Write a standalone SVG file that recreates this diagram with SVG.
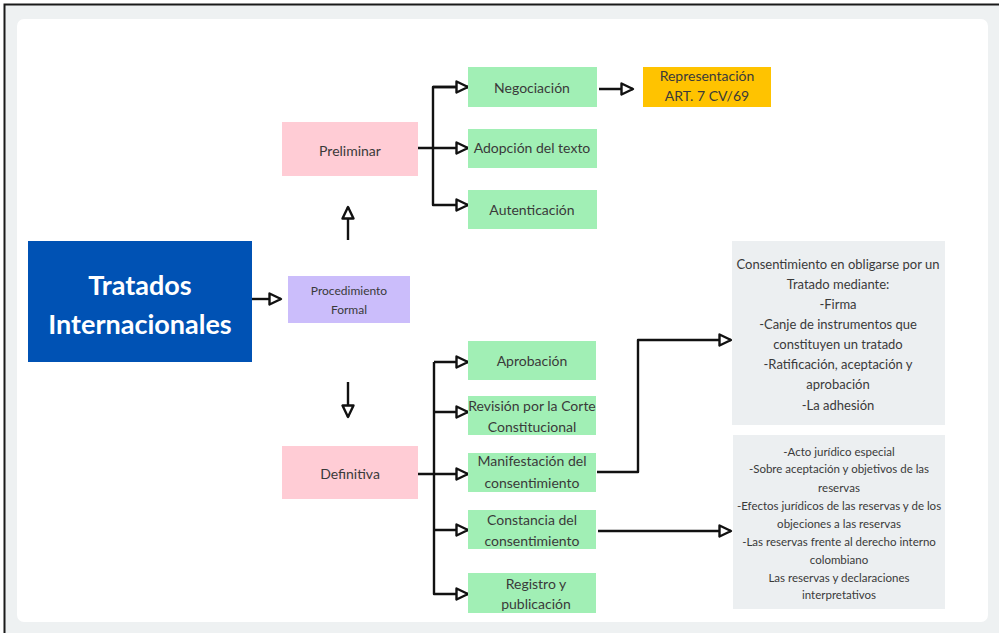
<svg xmlns="http://www.w3.org/2000/svg" width="999" height="633" viewBox="0 0 999 633">
<defs>
<marker id="arr" markerUnits="userSpaceOnUse" markerWidth="16" markerHeight="16" refX="13" refY="7" orient="auto">
<path d="M1.5,1.5 L13,7 L1.5,12.5 Z" fill="#ffffff" stroke="#111111" stroke-width="2.4" stroke-linejoin="round"/>
</marker>
</defs>
<style>
.frame{fill:#eef1f2;stroke:none}
.panel{fill:#ffffff}
.green{fill:#a1efb5}
.pink{fill:#ffccd5}
.lav{fill:#cbbdfb}
.gold{fill:#ffc300}
.gray{fill:#eceff1}
.blue{fill:#0052b4}
text{font-family:Lato,"Open Sans","Liberation Sans",sans-serif;fill:#3a3a3a;text-anchor:middle}
.t14{font-size:14px}
.t13{font-size:13px}
.t12{font-size:12px}
.t11{font-size:11.5px}
.title{font-size:27px;font-weight:bold;fill:#ffffff}
.con{fill:none;stroke:#111111;stroke-width:2.4;stroke-linejoin:round}
</style>
<rect x="0" y="0" width="999" height="633" fill="#ffffff"/>
<rect x="4" y="4" width="995" height="629" class="frame"/>
<path d="M4.5,633 V4.5 H999" fill="none" stroke="#1a1a1a" stroke-width="2"/>
<rect x="17" y="19" width="971" height="603" rx="7" class="panel"/>

<g id="connectors">
<path class="con" d="M252,299 H281" marker-end="url(#arr)"/>
<path class="con" d="M348,240 V207" marker-end="url(#arr)"/>
<path class="con" d="M348,382 V417" marker-end="url(#arr)"/>
<path class="con" d="M418,148 H468" marker-end="url(#arr)"/>
<path class="con" d="M468,87 H433 V205 H468" marker-end="url(#arr)"/>
<path class="con" d="M433,87 H468" marker-end="url(#arr)"/>
<path class="con" d="M599,89 H633" marker-end="url(#arr)"/>
<path class="con" d="M418,474 H468" marker-end="url(#arr)"/>
<path class="con" d="M434,362 V594 H468" marker-end="url(#arr)"/>
<path class="con" d="M434,362 H468" marker-end="url(#arr)"/>
<path class="con" d="M434,412 H468" marker-end="url(#arr)"/>
<path class="con" d="M434,530 H468" marker-end="url(#arr)"/>
<path class="con" d="M597,472 H638 V340 H731" marker-end="url(#arr)"/>
<path class="con" d="M598,531 H731" marker-end="url(#arr)"/>
</g>

<g id="tratados">
<rect x="28" y="241" width="224" height="121" class="blue"/>
<text class="title" x="140" y="295">Tratados</text>
<text class="title" x="140" y="334">Internacionales</text>
</g>
<g id="procedimiento">
<rect x="288" y="276" width="122" height="47" class="lav"/>
<text class="t12" x="349" y="295">Procedimiento</text>
<text class="t12" x="349" y="314">Formal</text>
</g>
<g id="preliminar">
<rect x="282" y="122" width="136" height="54" class="pink"/>
<text class="t14" x="350" y="156">Preliminar</text>
</g>
<g id="negociacion">
<rect x="468" y="67" width="129" height="40" class="green"/>
<text class="t14" x="532" y="93">Negociación</text>
</g>
<g id="adopcion">
<rect x="468" y="129" width="129" height="39" class="green"/>
<text class="t14" x="532" y="153">Adopción del texto</text>
</g>
<g id="autenticacion">
<rect x="468" y="190" width="129" height="39" class="green"/>
<text class="t14" x="532" y="215">Autenticación</text>
</g>
<g id="representacion">
<rect x="643" y="67" width="128" height="40" class="gold"/>
<text class="t14" x="707" y="81">Representación</text>
<text class="t14" x="707" y="101">ART. 7 CV/69</text>
</g>
<g id="definitiva">
<rect x="282" y="446" width="136" height="53" class="pink"/>
<text class="t14" x="350" y="479">Definitiva</text>
</g>
<g id="aprobacion">
<rect x="468" y="341" width="128" height="39" class="green"/>
<text class="t14" x="532" y="366">Aprobación</text>
</g>
<g id="revision">
<rect x="468" y="396" width="128" height="39" class="green"/>
<text class="t14" x="532" y="411">Revisión por la Corte</text>
<text class="t14" x="532" y="432">Constitucional</text>
</g>
<g id="manifestacion">
<rect x="468" y="453" width="128" height="39" class="green"/>
<text class="t14" x="532" y="466">Manifestación del</text>
<text class="t14" x="532" y="488">consentimiento</text>
</g>
<g id="constancia">
<rect x="468" y="510" width="128" height="39" class="green"/>
<text class="t14" x="532" y="525">Constancia del</text>
<text class="t14" x="532" y="546">consentimiento</text>
</g>
<g id="registro">
<rect x="468" y="573" width="128" height="40" class="green"/>
<text class="t14" x="536" y="589">Registro y</text>
<text class="t14" x="536" y="609">publicación</text>
</g>
<g id="consentimiento">
<rect x="732" y="241" width="213" height="184" class="gray"/>
<text class="t13" x="838" y="269">Consentimiento en obligarse por un</text>
<text class="t13" x="838" y="289">Tratado mediante:</text>
<text class="t13" x="838" y="309">-Firma</text>
<text class="t13" x="838" y="329">-Canje de instrumentos que</text>
<text class="t13" x="838" y="349">constituyen un tratado</text>
<text class="t13" x="838" y="369">-Ratificación, aceptación y</text>
<text class="t13" x="838" y="389">aprobación</text>
<text class="t13" x="838" y="410">-La adhesión</text>
</g>
<g id="reservas">
<rect x="733" y="435" width="212" height="174" class="gray"/>
<text class="t11" x="839" y="456">-Acto jurídico especial</text>
<text class="t11" x="839" y="473">-Sobre aceptación y objetivos de las</text>
<text class="t11" x="839" y="492">reservas</text>
<text class="t11" x="839" y="510">-Efectos jurídicos de las reservas y de los</text>
<text class="t11" x="839" y="528">objeciones a las reservas</text>
<text class="t11" x="839" y="546">-Las reservas frente al derecho interno</text>
<text class="t11" x="839" y="564">colombiano</text>
<text class="t11" x="839" y="582">Las reservas y declaraciones</text>
<text class="t11" x="839" y="599">interpretativos</text>
</g>
</svg>
